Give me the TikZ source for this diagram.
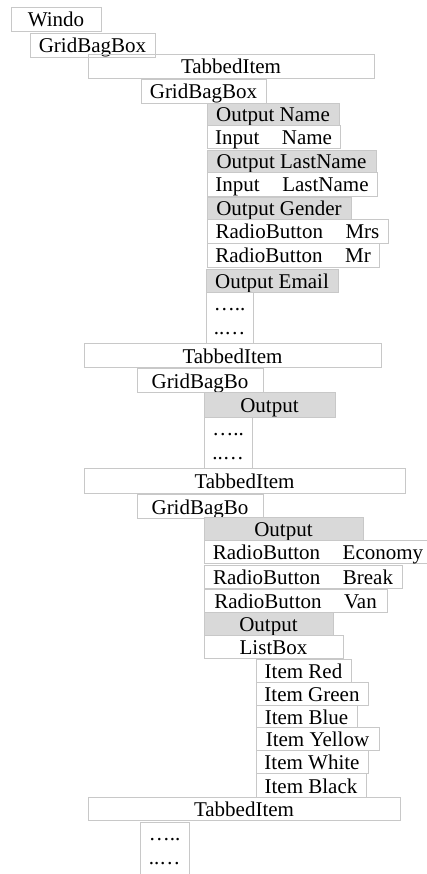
\documentclass[tikz,border=0pt]{standalone}
\usepackage{fontspec}
\setmainfont{Liberation Serif}
\usetikzlibrary{calc}
\definecolor{edge}{RGB}{200,200,200}
\definecolor{shade}{RGB}{217,217,217}
% gap between the two words of an entry
\newcommand\gap{\hspace{22.5pt}}
% \cell{style}{name}{x1}{y1}{x2}{y2}{text}: a box from (x1,y1) to (x2,y2), y pointing down
\newcommand\cell[7]{%
  \node[#1, minimum width={(#5)-(#3)}, minimum height={(#6)-(#4)}]
    (#2) at ({((#3)+(#5))/2},{((#4)+(#6))/2}) {#7};}
\begin{document}
\begin{tikzpicture}[x=1pt, y=-1pt,
  box/.style={draw=edge, line width=0.9pt, inner sep=0pt, outer sep=0pt,
    font=\fontsize{21}{24}\selectfont, text height=16pt, text depth=0pt},
  plainbox/.style={box},
  outbox/.style={box, fill=shade},
  dots/.style={inner sep=0pt, font=\fontsize{21}{24}\selectfont, anchor=base}]
\fill[white] (0,0) rectangle (426,874);
\useasboundingbox (0,0) rectangle (426,874);

% window and first tab
\cell{plainbox}{win}{11}{7}{101}{31}{Windo}
\cell{plainbox}{gbbA}{30}{33}{155}{57}{GridBagBox}
\cell{plainbox}{tabA}{88}{54}{374}{78}{TabbedItem}
\cell{plainbox}{gbbB}{141}{79}{266}{103}{GridBagBox}
\cell{outbox}{outName}{207}{103}{339}{125}{Output Name}
\cell{plainbox}{inName}{207}{125}{340}{148}{Input\gap Name}
\cell{outbox}{outLast}{207}{150}{376}{172}{Output LastName}
\cell{plainbox}{inLast}{207}{172}{377}{196}{Input\gap LastName}
\cell{outbox}{outGender}{207}{197}{351}{219}{Output Gender}
\cell{plainbox}{rbMrs}{207}{219}{388}{243}{RadioButton\gap Mrs}
\cell{plainbox}{rbMr}{207}{243}{379}{267}{RadioButton\gap Mr}
\cell{outbox}{outEmail}{206}{269}{338}{292}{Output Email}
\cell{plainbox}{dotsA}{206}{292}{253}{343}{}
\node[dots] (dotsAa) at ($(dotsA.north)+(0,18)$) {…..};
\node[dots] (dotsAb) at ($(dotsA.north)+(0,42)$) {..…};

% second tab
\cell{plainbox}{tabB}{84}{343}{381}{367}{TabbedItem}
\cell{plainbox}{gbbC}{137}{368}{263}{392}{GridBagBo}
\cell{outbox}{outB}{204}{392}{335}{417}{Output}
\cell{plainbox}{dotsB}{204}{417}{252}{468}{}
\node[dots] (dotsBa) at ($(dotsB.north)+(0,18)$) {…..};
\node[dots] (dotsBb) at ($(dotsB.north)+(0,42)$) {..…};

% third tab
\cell{plainbox}{tabC}{84}{468}{405}{493}{TabbedItem}
\cell{plainbox}{gbbD}{137}{494}{263}{518}{GridBagBo}
\cell{outbox}{outC}{204}{517}{363}{540}{Output}
\cell{plainbox}{rbEco}{204}{540}{432}{563}{RadioButton\gap Economy}
\cell{plainbox}{rbBreak}{204}{565}{402}{588}{RadioButton\gap Break}
\cell{plainbox}{rbVan}{204}{589}{387}{612}{RadioButton\gap Van}
\cell{outbox}{outD}{204}{612}{333}{635}{Output}
\cell{plainbox}{listbox}{204}{635}{343}{658}{ListBox}
\cell{plainbox}{itRed}{256}{659}{351}{682}{Item Red}
\cell{plainbox}{itGreen}{256}{682}{368}{705}{Item Green}
\cell{plainbox}{itBlue}{256}{705}{357}{727}{Item Blue}
\cell{plainbox}{itYellow}{256}{727}{379}{750}{Item Yellow}
\cell{plainbox}{itWhite}{256}{750}{368}{773}{Item White}
\cell{plainbox}{itBlack}{256}{773}{366}{797}{Item Black}

% fourth tab
\cell{plainbox}{tabD}{88}{797}{400}{820}{TabbedItem}
\cell{plainbox}{dotsC}{140}{822}{189}{884}{}
\node[dots] (dotsCa) at ($(dotsC.north)+(0,18)$) {…..};
\node[dots] (dotsCb) at ($(dotsC.north)+(0,42)$) {..…};
\end{tikzpicture}
\end{document}
